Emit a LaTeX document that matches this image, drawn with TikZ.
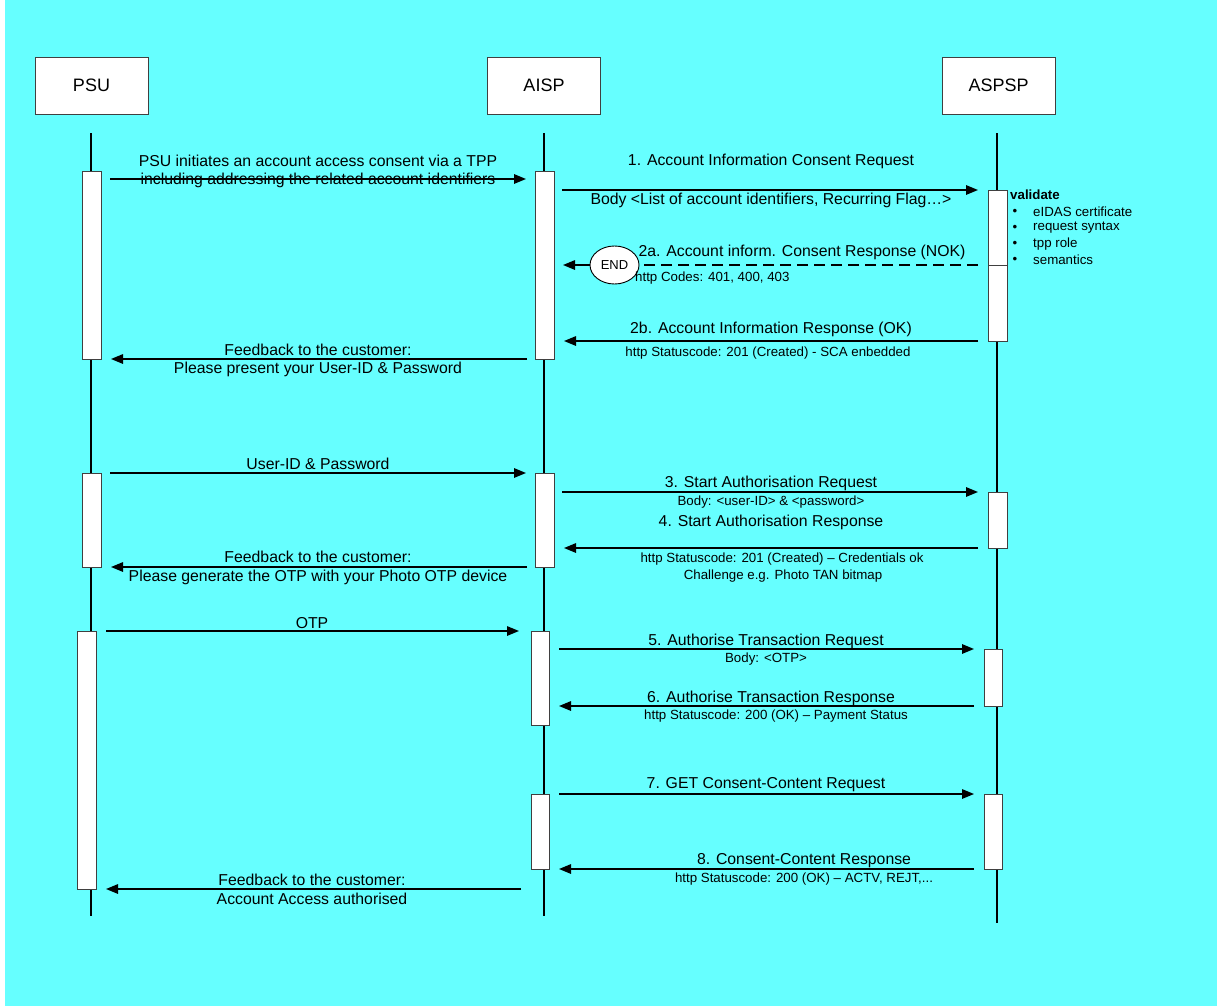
\documentclass[tikz,border=0pt]{standalone}
\usepackage{fontspec}
\setmainfont{Liberation Sans}
\usetikzlibrary{arrows.meta,shapes.geometric}
\definecolor{bgcyan}{RGB}{102,255,255}
\begin{document}
\begin{tikzpicture}[x=1pt,y=-1pt,
  lifeline/.style={line width=2.6pt},
  bar/.style={draw=black!75,line width=0.9pt,fill=white},
  msg/.style={line width=1.5pt,-{Triangle[length=12pt,width=9.5pt]}},
  dmsg/.style={line width=1.5pt,dash pattern=on 11pt off 6pt},
  head/.style={draw=black!75,line width=0.9pt,fill=white,minimum width=113pt,minimum height=57pt,inner sep=0pt,font=\fontsize{18}{21}\selectfont},
  lbl/.style={inner sep=0pt,font=\fontsize{15.8}{18}\selectfont},
  sml/.style={inner sep=0pt,font=\fontsize{13.3}{16}\selectfont},
]
\useasboundingbox (0,0) rectangle (1217,1006);
\fill[bgcyan] (5,0) rectangle (1217,1006);

% participants
\node[head] (psu) at (91.5,85.5) {PSU};
\node[head] (aisp) at (544,85.5) {AISP};
\node[head] (aspsp) at (998.5,85.5) {ASPSP};

% lifelines
\coordinate (psuT) at (91,133); \coordinate (psuB) at (91,916);
\coordinate (aispT) at (544,133); \coordinate (aispB) at (544,916);
\coordinate (aspspT) at (997,133); \coordinate (aspspB) at (997,923);
\draw[lifeline] (psuT) -- (psuB);
\draw[lifeline] (aispT) -- (aispB);
\draw[lifeline] (aspspT) -- (aspspB);

% activation bars
\path[bar] (82,171) rectangle (101,359);
\path[bar] (535,171) rectangle (554,359);
\path[bar] (988,190) rectangle (1007,341);
\draw[black!75,line width=0.9pt] (988,265) -- (1007,265);
\path[bar] (82,473) rectangle (101,567);
\path[bar] (535,473) rectangle (554,567);
\path[bar] (988,492) rectangle (1007,548);
\path[bar] (77,631) rectangle (96,889);
\path[bar] (531,631) rectangle (549,725);
\path[bar] (984,649) rectangle (1002,706);
\path[bar] (531,794) rectangle (549,869);
\path[bar] (984,794) rectangle (1002,869);

% message end points
\coordinate (m0s) at (110,179); \coordinate (m0e) at (526,179);
\coordinate (m1s) at (562,190); \coordinate (m1e) at (978,190);
\coordinate (m2as) at (978,265); \coordinate (m2ae) at (563,265);
\coordinate (m2bs) at (978,341); \coordinate (m2be) at (564,341);
\coordinate (f1s) at (527,359); \coordinate (f1e) at (111,359);
\coordinate (upS) at (110,473); \coordinate (upE) at (526,473);
\coordinate (m3s) at (562,492); \coordinate (m3e) at (978,492);
\coordinate (m4s) at (978,548); \coordinate (m4e) at (564,548);
\coordinate (f2s) at (527,567); \coordinate (f2e) at (111,567);
\coordinate (otpS) at (106,631); \coordinate (otpE) at (519,631);
\coordinate (m5s) at (559,649); \coordinate (m5e) at (974,649);
\coordinate (m6s) at (974,706); \coordinate (m6e) at (559,706);
\coordinate (m7s) at (559,794); \coordinate (m7e) at (974,794);
\coordinate (m8s) at (974,869); \coordinate (m8e) at (559,869);
\coordinate (f3s) at (521,889); \coordinate (f3e) at (106,889);

% messages
\draw[msg] (m0s) -- (m0e);
\draw[msg] (m1s) -- (m1e);
\node[ellipse,draw,line width=0.9pt,fill=white,minimum width=49pt,minimum height=38pt,inner sep=0pt,font=\fontsize{13}{15}\selectfont] (endn) at (614.5,265) {END};
\draw[dmsg] (m2as) -- (endn.east);
\draw[msg] (endn.west) -- (m2ae);
\draw[msg] (m2bs) -- (m2be);
\draw[msg] (f1s) -- (f1e);
\draw[msg] (upS) -- (upE);
\draw[msg] (m3s) -- (m3e);
\draw[msg] (m4s) -- (m4e);
\draw[msg] (f2s) -- (f2e);
\draw[msg] (otpS) -- (otpE);
\draw[msg] (m5s) -- (m5e);
\draw[msg] (m6s) -- (m6e);
\draw[msg] (m7s) -- (m7e);
\draw[msg] (m8s) -- (m8e);
\draw[msg] (f3s) -- (f3e);

% labels
\node[lbl] (t0a) at (318,161) {PSU initiates an account access consent via a TPP};
\node[lbl] (t0b) at (318,180) {including addressing the related account identifiers};
\node[lbl] (t1a) at (771,161) {1. Account Information Consent Request};
\node[lbl] (t1b) at (771,200) {Body <List of account identifiers, Recurring Flag…>};

\node[sml,anchor=west,font=\fontsize{13.3}{16}\selectfont\bfseries] (val) at (1010,195) {validate};
\foreach \yy/\tt [count=\i] in {212/eIDAS certificate,228/request syntax,244/tpp role,260/semantics}{
  \node[sml] (bul\i) at (1015,\yy) {•};
  \node[sml,anchor=west] (vt\i) at (1033,\yy) {\tt};
}

\node[lbl] (t2a) at (802,252) {2a. Account inform. Consent Response (NOK)};
\node[sml,anchor=west] (t2ab) at (635,278) {http Codes: 401, 400, 403};
\node[lbl] (t2b) at (771,329) {2b. Account Information Response (OK)};
\node[sml] (t2bb) at (768,353) {http Statuscode: 201 (Created) - SCA enbedded};
\node[lbl] (tf1a) at (318,350) {Feedback to the customer:};
\node[lbl] (tf1b) at (318,369) {Please present your User-ID \& Password};
\node[lbl] (tup) at (318,464) {User-ID \& Password};
\node[lbl] (t3a) at (771,483) {3. Start Authorisation Request};
\node[sml] (t3b) at (771,502) {Body: <user-ID> \& <password>};
\node[lbl] (t4a) at (771,522) {4. Start Authorisation Response};
\node[sml] (t4b) at (782,559) {http Statuscode: 201 (Created) – Credentials ok};
\node[sml] (t4c) at (783,576) {Challenge e.g. Photo TAN bitmap};
\node[lbl] (tf2a) at (318,557) {Feedback to the customer:};
\node[lbl] (tf2b) at (318,577) {Please generate the OTP with your Photo OTP device};
\node[lbl] (totp) at (312,623) {OTP};
\node[lbl] (t5a) at (766,641) {5. Authorise Transaction Request};
\node[sml] (t5b) at (766,659) {Body: <OTP>};
\node[lbl] (t6a) at (771,698) {6. Authorise Transaction Response};
\node[sml] (t6b) at (776,716) {http Statuscode: 200 (OK) – Payment Status};
\node[lbl] (t7a) at (766,785) {7. GET Consent-Content Request};
\node[lbl] (t8a) at (804,861) {8. Consent-Content Response};
\node[sml] (t8b) at (804,879) {http Statuscode: 200 (OK) – ACTV, REJT,...};
\node[lbl] (tf3a) at (312,880) {Feedback to the customer:};
\node[lbl] (tf3b) at (312,899) {Account Access authorised};
\end{tikzpicture}
\end{document}
